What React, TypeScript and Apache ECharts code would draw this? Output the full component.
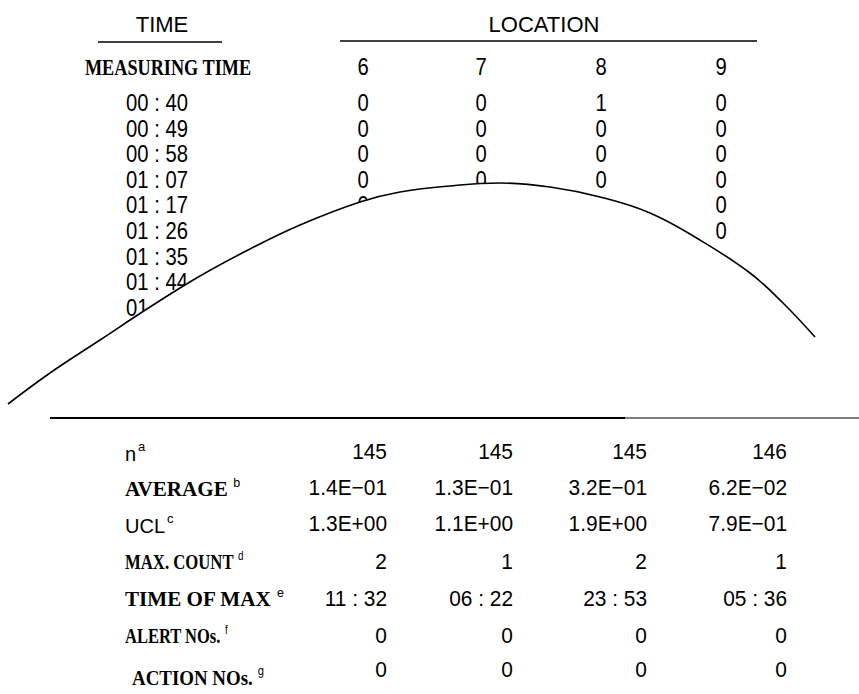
import React, { useEffect, useRef } from "react";
import * as echarts from "echarts";

// ---------- data ----------
const timeHeader = "TIME";
const locationHeader = "LOCATION";
const measuringLabel = "MEASURING TIME";
const locations = ["6", "7", "8", "9"];
const measuringTimes = [
  "00 : 40", "00 : 49", "00 : 58", "01 : 07", "01 : 17",
  "01 : 26", "01 : 35", "01 : 44", "01 : 53",
];
// visible counts (rows hidden under the folded page are left out)
const countsLoc6 = [0, 0, 0, 0, 0];
const countsLoc7 = [0, 0, 0, 0];
const countsLoc8 = [1, 0, 0, 0];
const countsLoc9 = [0, 0, 0, 0, 0, 0];

const summaryNames = ["n", "AVERAGE", "UCL", "MAX. COUNT", "TIME OF MAX", "ALERT NOs.", "ACTION NOs."];
const summarySups = ["a", "b", "c", "d", "e", "f", "g"];
const summaryBold = [false, true, false, true, true, true, true];
const summaryN = ["145", "145", "145", "146"];
const summaryAverage = ["1.4E\u221201", "1.3E\u221201", "3.2E\u221201", "6.2E\u221202"];
const summaryUCL = ["1.3E+00", "1.1E+00", "1.9E+00", "7.9E\u221201"];
const summaryMaxCount = ["2", "1", "2", "1"];
const summaryTimeOfMax = ["11 : 32", "06 : 22", "23 : 53", "05 : 36"];
const summaryAlert = ["0", "0", "0", "0"];
const summaryAction = ["0", "0", "0", "0"];

// page-fold curve (page pixel units)
const curveX = [8, 50, 100, 150, 200, 250, 300, 360, 400, 450, 500, 550, 600, 650, 700, 750, 783, 815];
const curveY = [404, 373, 340, 307, 276, 249, 225, 202, 192, 186, 183, 187, 197, 213, 240, 273, 303, 337];

// ---------- layout ----------
const W = 859;
const H = 694;
const SANS = '"Liberation Sans", Arial, sans-serif';
const SERIF = '"Liberation Serif", "Times New Roman", serif';
const colX = [363, 481, 601, 721];
const rowY0 = 103;
const rowStep = 25.6;
const sumRight = [387, 513, 647, 787];
const sumRowY = [452, 488, 524, 562, 599, 636, 670];
const sumLabelY = [452, 488, 524, 561, 598, 635, 676];
const sumLabelX = [125, 125, 125, 125, 125, 125, 132];
const sumLabelScale = [1, 0.96, 1, 0.76, 0.96, 0.75, 0.86];
const NUM_FONT = `23px ${SANS}`;
const NUM_SCALE = 0.88;

function txt(x: number, y: number, text: string, font: string, align = "center", scaleX = 1) {
  return {
    type: "text",
    x,
    y,
    z: 0,
    scaleX,
    style: {
      text,
      font,
      fill: "#000",
      align,
      textAlign: align,
      verticalAlign: "middle",
      textVerticalAlign: "middle",
    },
  };
}

export default function App() {
  const ref = useRef<HTMLDivElement>(null);

  useEffect(() => {
    if (!ref.current) return;
    const chart = echarts.init(ref.current, null, { renderer: "svg" });

    const g: any[] = [];
    // headers
    g.push(txt(162, 24, timeHeader, `22px ${SANS}`));
    g.push(txt(544, 24, locationHeader, `22px ${SANS}`));
    g.push({ type: "line", z: 0, shape: { x1: 98, y1: 42, x2: 222, y2: 42 }, style: { stroke: "#000", lineWidth: 1.6 } });
    g.push({ type: "line", z: 0, shape: { x1: 340, y1: 41, x2: 757, y2: 41 }, style: { stroke: "#000", lineWidth: 1.6 } });
    g.push(txt(168, 67, measuringLabel, `bold 24px ${SERIF}`, "center", 0.76));
    locations.forEach((l, i) => g.push(txt(colX[i], 67, l, NUM_FONT, "center", NUM_SCALE)));

    // time rows
    measuringTimes.forEach((t, r) => g.push(txt(157, rowY0 + r * rowStep, t, NUM_FONT, "center", NUM_SCALE)));
    [countsLoc6, countsLoc7, countsLoc8, countsLoc9].forEach((arr, c) => {
      arr.forEach((v, r) => g.push(txt(colX[c], rowY0 + r * rowStep, String(v), NUM_FONT, "center", NUM_SCALE)));
    });

    // bottom rule
    g.push({ type: "line", z: 0, shape: { x1: 50, y1: 418, x2: 625, y2: 418 }, style: { stroke: "#000", lineWidth: 2.2 } });
    g.push({ type: "line", z: 0, shape: { x1: 625, y1: 418, x2: 859, y2: 418 }, style: { stroke: "#000", lineWidth: 1 } });

    // summary labels
    summaryNames.forEach((name, i) => {
      const mainFont = summaryBold[i] ? `bold 22px ${SERIF}` : `20px ${SANS}`;
      g.push({
        type: "text",
        x: sumLabelX[i],
        y: sumLabelY[i],
        z: 0,
        scaleX: sumLabelScale[i],
        style: {
          text: `{m|${name}}{s|${summaryBold[i] ? " " : ""}${summarySups[i]}}`,
          align: "left",
          textAlign: "left",
          verticalAlign: "middle",
          textVerticalAlign: "middle",
          rich: {
            m: { font: mainFont, fill: "#000", lineHeight: 24, verticalAlign: "bottom" },
            s: { font: `13px ${SANS}`, fill: "#000", lineHeight: 24, verticalAlign: "top", padding: [0, 0, 10, 2] },
          },
        },
      });
    });

    // summary values
    const sumRows = [summaryN, summaryAverage, summaryUCL, summaryMaxCount, summaryTimeOfMax, summaryAlert, summaryAction];
    sumRows.forEach((row, r) => {
      row.forEach((v, c) => g.push(txt(sumRight[c], sumRowY[r], v, `22px ${SANS}`, "right", 0.95)));
    });

    chart.setOption({
      animation: false,
      backgroundColor: "#fff",
      grid: { left: 0, top: 0, width: W, height: 410, show: false },
      xAxis: { type: "value", min: 0, max: W, show: false },
      yAxis: { type: "value", min: 0, max: 410, inverse: true, show: false },
      graphic: { elements: g },
      series: [
        {
          type: "line",
          z: 5,
          smooth: 0.4,
          symbol: "none",
          silent: true,
          data: curveX.map((x, i) => [x, curveY[i]]),
          lineStyle: { color: "#000", width: 1.6 },
          areaStyle: { color: "#fff", opacity: 1, origin: "end" },
        },
      ],
    });

    return () => chart.dispose();
  }, []);

  return (
    <div
      ref={ref}
      style={{ position: "fixed", left: 0, top: 0, width: W, height: H, background: "#fff" }}
    />
  );
}
